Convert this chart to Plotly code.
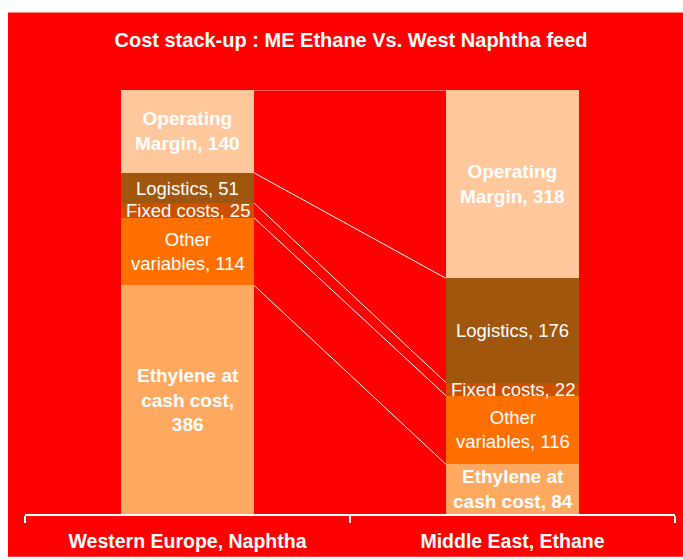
import plotly.graph_objects as go

categories = ["Western Europe, Naphtha", "Middle East, Ethane"]
series = ["Ethylene at cash cost", "Other variables", "Fixed costs", "Logistics", "Operating Margin"]
values = {
    "Ethylene at cash cost": [386, 84],
    "Other variables": [114, 116],
    "Fixed costs": [25, 22],
    "Logistics": [51, 176],
    "Operating Margin": [140, 318],
}
labels = {
    "Ethylene at cash cost": ["Ethylene at<br>cash cost,<br>386", "Ethylene at<br>cash cost, 84"],
    "Other variables": ["Other<br>variables, 114", "Other<br>variables, 116"],
    "Fixed costs": ["Fixed costs, 25", "Fixed costs, 22"],
    "Logistics": ["Logistics, 51", "Logistics, 176"],
    "Operating Margin": ["Operating<br>Margin, 140", "Operating<br>Margin, 318"],
}
bold = {"Ethylene at cash cost": True, "Other variables": False, "Fixed costs": False,
        "Logistics": False, "Operating Margin": True}
colors = {
    "Ethylene at cash cost": "#FFA860",
    "Other variables": "#FF7000",
    "Fixed costs": "#CC5000",
    "Logistics": "#A0560C",
    "Operating Margin": "#FFC89C",
}
title = "Cost stack-up : ME Ethane Vs. West Naphtha feed"

FONT = "Liberation Sans, Arial, sans-serif"
BAR_W = 0.41

fig = go.Figure()
annotations = []
cum = [0, 0]
bounds = [[0], [0]]
for s in series:
    fig.add_trace(go.Bar(
        x=categories, y=values[s], name=s, width=BAR_W,
        marker=dict(color=colors[s], line=dict(width=0)),
        hoverinfo="skip",
    ))
    for i in range(2):
        mid = cum[i] + values[s][i] / 2
        txt = labels[s][i]
        if bold[s]:
            txt = "<b>" + txt + "</b>"
        annotations.append(dict(
            x=i, y=mid, xref="x", yref="y", text=txt, showarrow=False,
            font=dict(family=FONT, size=19 if bold[s] else 18.5, color="white"), align="center",
        ))
        cum[i] += values[s][i]
        bounds[i].append(cum[i])

shapes = []
total = max(cum)
W, H = 683, 560
px_l, px_r, px_t, px_b = 25, 675, 90, 517
pw, ph = px_r - px_l, px_b - px_t
shapes.append(dict(type="rect", xref="paper", yref="paper",
                   x0=(8 - px_l) / pw, x1=(W - px_l) / pw,
                   y0=(px_b - H) / ph, y1=(px_b - 12) / ph,
                   fillcolor="#FF0000", line=dict(width=0), layer="below"))
# connector lines
for k in range(1, len(bounds[0])):
    top = (k == len(bounds[0]) - 1)
    shapes.append(dict(type="line", xref="x", yref="y",
                       x0=0 + BAR_W / 2, x1=1 - BAR_W / 2,
                       y0=bounds[0][k], y1=bounds[1][k],
                       line=dict(color="rgba(255,255,255,0.75)" if top else "white", width=1),
                       layer="above"))

fig.update_layout(
    width=W, height=H,
    barmode="stack",
    showlegend=False,
    paper_bgcolor="white",
    plot_bgcolor="rgba(0,0,0,0)",
    margin=dict(l=px_l, r=W - px_r, t=px_t, b=H - px_b, pad=0),
    title=dict(text="<b>" + title + "</b>", x=351 / W, xanchor="center",
               y=1 - 40 / H, yanchor="middle", yref="container",
               font=dict(family=FONT, size=20, color="white")),
    xaxis=dict(type="category", range=[-0.5, 1.5], showline=True, linecolor="white", linewidth=2,
               ticks="outside", tickson="boundaries", ticklen=7, tickcolor="white", tickwidth=2,
               showgrid=False, zeroline=False, ticklabelstandoff=9,
               tickfont=dict(family=FONT, size=19.5, color="white"),
               tickvals=categories, ticktext=["<b>" + c + "</b>" for c in categories]),
    yaxis=dict(range=[0, total], visible=False, showgrid=False, zeroline=False),
    annotations=annotations,
    shapes=shapes,
)

fig.write_html("out.html", config={"displayModeBar": False},
               post_script="document.body.style.margin='0px';document.body.style.overflow='hidden';")
